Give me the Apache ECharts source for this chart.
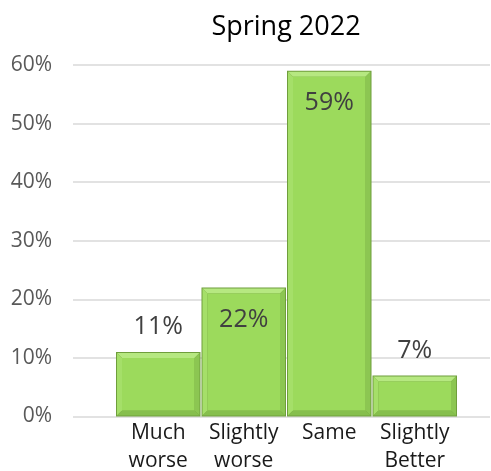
<!DOCTYPE html>
<html>
<head>
<meta charset="utf-8">
<script src="https://cdn.jsdelivr.net/npm/echarts@6/dist/echarts.min.js"></script>
<style>
  html, body { margin: 0; padding: 0; background: #fff; }
  #chart { width: 491px; height: 471px; }
</style>
</head>
<body>
<div id="chart"></div>
<script>
// Survey responses, Spring 2022
const chartTitle = 'Spring 2022';
const categories = ['Much\nworse', 'Slightly\nworse', 'Same', 'Slightly\nBetter'];
const shares = [0.11, 0.22, 0.59, 0.07];
const yTicks = [0, 0.1, 0.2, 0.3, 0.4, 0.5, 0.6];

const FONT = '"Open Sans", "Noto Sans", sans-serif';
const pct = v => Math.round(v * 100) + '%';

const chart = echarts.init(document.getElementById('chart'), null, { renderer: 'canvas' });

// bevelled green column with its value label
function renderBar(params, api) {
  const idx = api.value(0);
  const val = api.value(1);
  const top = api.coord([idx, val]);
  const base = api.coord([idx, 0]);
  const w = api.size([1, 0])[0] - 1;
  const x0 = top[0] - w / 2, x1 = top[0] + w / 2;
  const y0 = top[1], y1 = base[1];
  const b = Math.min(6, (y1 - y0) / 2 - 1);
  const ix0 = x0 + b, ix1 = x1 - b, iy0 = y0 + b, iy1 = y1 - b;
  const children = [
    { type: 'rect', shape: { x: x0, y: y0, width: x1 - x0, height: y1 - y0 },
      style: { fill: '#6f9e3c' } },
    { type: 'polygon', shape: { points: [[x0 + 1, y0 + 1], [x1 - 1, y0 + 1], [ix1, iy0], [ix0, iy0]] },
      style: { fill: '#b6e881' } },
    { type: 'polygon', shape: { points: [[x0 + 1, y0 + 1], [ix0, iy0], [ix0, iy1], [x0 + 1, y1 - 1]] },
      style: { fill: '#a5df69' } },
    { type: 'polygon', shape: { points: [[x1 - 1, y0 + 1], [x1 - 1, y1 - 1], [ix1, iy1], [ix1, iy0]] },
      style: { fill: '#8cc652' } },
    { type: 'polygon', shape: { points: [[x0 + 1, y1 - 1], [ix0, iy1], [ix1, iy1], [x1 - 1, y1 - 1]] },
      style: { fill: '#86bf4d' } },
    { type: 'rect', shape: { x: ix0, y: iy0, width: ix1 - ix0, height: iy1 - iy0 },
      style: { fill: '#9cda5c' } }
  ];
  const inside = val > 0.15;
  children.push({
    type: 'text',
    style: {
      text: pct(val),
      x: top[0],
      y: inside ? y0 + 32 : y0 - 25,
      align: 'center',
      verticalAlign: 'middle',
      font: '25px ' + FONT,
      fill: '#404040'
    }
  });
  return { type: 'group', children };
}

const option = {
  animation: false,
  graphic: [{
    type: 'text',
    x: 286, y: 27,
    style: {
      text: chartTitle,
      align: 'center',
      verticalAlign: 'middle',
      font: '27px ' + FONT,
      fill: '#000000'
    }
  }],
  grid: [
    { left: 73, right: 1, top: 65, bottom: 54.5, outerBoundsMode: 'none' },
    { left: 115.5, width: 342, top: 65, bottom: 54.5, outerBoundsMode: 'none' }
  ],
  xAxis: [
    { gridIndex: 0, type: 'category', data: categories, show: false },
    {
      gridIndex: 1, type: 'category', data: categories,
      axisLine: { show: false }, axisTick: { show: false },
      axisLabel: {
        interval: 0, margin: 3, lineHeight: 28,
        fontFamily: FONT, fontSize: 21, color: '#1a1a1a'
      }
    }
  ],
  yAxis: [
    {
      gridIndex: 0, type: 'value', min: yTicks[0], max: yTicks[yTicks.length - 1], interval: 0.1,
      axisLine: { show: false }, axisTick: { show: false },
      axisLabel: { formatter: pct, margin: 21, fontFamily: FONT, fontSize: 21, color: '#595959' },
      splitLine: { lineStyle: { color: '#d9d9d9', width: 1.5 } }
    },
    {
      gridIndex: 1, type: 'value', min: yTicks[0], max: yTicks[yTicks.length - 1], interval: 0.1,
      show: false, splitLine: { show: false }
    }
  ],
  series: [{
    type: 'custom',
    xAxisIndex: 1, yAxisIndex: 1,
    renderItem: renderBar,
    encode: { x: 0, y: 1 },
    data: shares.map((v, i) => [i, v])
  }]
};

chart.setOption(option);
</script>
</body>
</html>
